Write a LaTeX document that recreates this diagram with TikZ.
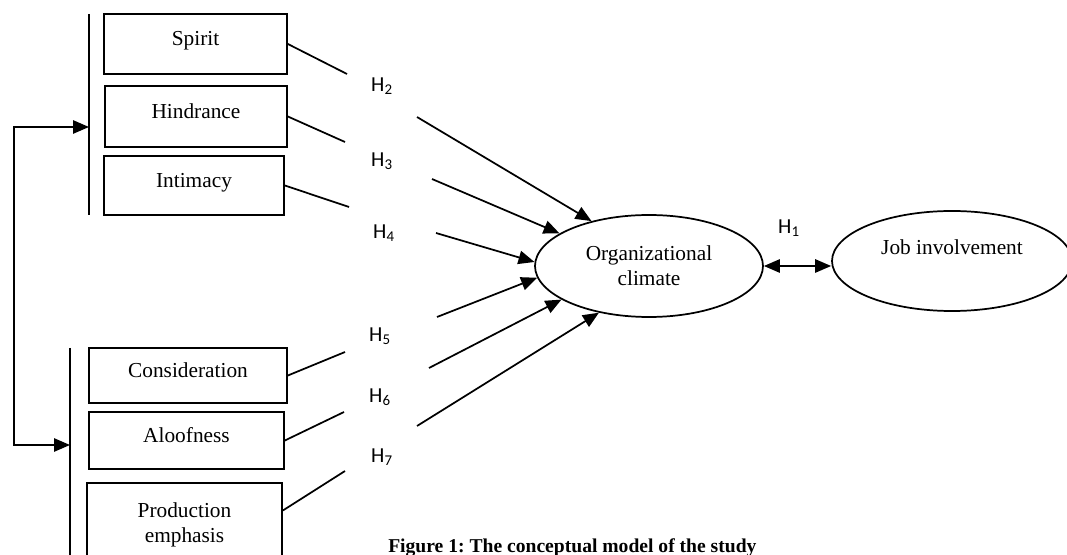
\documentclass[tikz,border=0pt]{standalone}
\usepackage{fontspec}
\setmainfont{Liberation Serif}
\newfontfamily\hfont{Carlito}
\usetikzlibrary{arrows.meta,shapes.geometric}

\tikzset{
    >={Triangle[length=12pt,width=10pt]},
    factor/.style={draw, line width=1.3pt, inner sep=0pt, text depth=8pt, align=center,
        font=\fontsize{16}{19}\selectfont},
    hyp/.style={font=\hfont\fontsize{16}{19}\selectfont},
    link/.style={line width=1.3pt, ->},
}

\begin{document}
\begin{tikzpicture}[x=0.75pt,y=-0.75pt]
        \useasboundingbox (0,0) rectangle (1067,555);

        % Factores
        \node[factor, minimum width=137.25pt, minimum height=45pt] (spirit) at (195.5,44) {Spirit};
        \node[factor, minimum width=136.5pt, minimum height=45.75pt] (hindrance) at (196,116.5) {Hindrance};
        \node[factor, minimum width=135pt, minimum height=44.25pt] (intimacy) at (194,185.5) {Intimacy};

        \node[factor, minimum width=148.5pt, minimum height=41.25pt] (consideration) at (188,375.5) {Consideration};
        \node[factor, minimum width=146.25pt, minimum height=42.75pt] (aloofness) at (186.5,440.5) {Aloofness};
        \node[factor, text depth=3pt, minimum width=146.25pt, minimum height=62.25pt] (production) at (184.5,524.5) {Production\\emphasis};

        % Barras
        \coordinate (t1) at (89,14);
        \coordinate (t2) at (89,215);
        \coordinate (b1) at (70,348);
        \coordinate (b2) at (70,560);
        \draw[line width=1.3pt] (t1) -- (t2);
        \draw[line width=1.3pt] (b1) -- (b2);

        \coordinate (tin) at (89,127);
        \coordinate (bin) at (70,445);
        \draw[line width=1.3pt, <->] (tin) -- ++(-75,0) |- (bin);

        % Elipses
        \node[draw, ellipse, line width=1.3pt, inner sep=0pt, minimum width=171pt, minimum height=76.5pt,
            align=center, font=\fontsize{16}{19}\selectfont] (org) at (649,266) {Organizational\\climate};
        \node[draw, ellipse, line width=1.3pt, inner sep=0pt, minimum width=180pt, minimum height=75pt,
            text depth=21pt, font=\fontsize{16}{19}\selectfont] (job) at (952,261) {Job involvement};

        \draw[line width=1.3pt, <->] (org.east) -- (org.east -| job.west);
        \node[hyp] (h1) at (789,228) {H\textsubscript{1}};

        % Hipotesis
        \node[hyp] (h2) at (382,86) {H\textsubscript{2}};
        \node[hyp] (h3) at (382,161) {H\textsubscript{3}};
        \node[hyp] (h4) at (384,233) {H\textsubscript{4}};
        \node[hyp] (h5) at (380,336) {H\textsubscript{5}};
        \node[hyp] (h6) at (380,397) {H\textsubscript{6}};
        \node[hyp] (h7) at (382,457) {H\textsubscript{7}};

        \coordinate (e1) at (347,74);
        \coordinate (e2) at (345,142);
        \coordinate (e3) at (349,207);
        \coordinate (e4) at (345,352);
        \coordinate (e5) at (344,412);
        \coordinate (e6) at (345,471);

        \draw[line width=1.3pt] (spirit.east) -- (e1);
        \draw[line width=1.3pt] (hindrance.east) -- (e2);
        \draw[line width=1.3pt] (intimacy.east) -- (e3);
        \draw[line width=1.3pt] (consideration.east) -- (e4);
        \draw[line width=1.3pt] (aloofness.east) -- (e5);
        \draw[line width=1.3pt] ([yshift=10.5pt]production.east) -- (e6);

        % Flechas
        \coordinate (a1) at (417,117);
        \coordinate (a2) at (432,179);
        \coordinate (a3) at (436,233);
        \coordinate (a4) at (437,317);
        \coordinate (a5) at (429,368);
        \coordinate (a6) at (417,426);
        \foreach \i/\a in {1/142, 2/160, 3/178, 4/186, 5/201, 6/223} {
            \draw[link] (a\i) -- (org.\a);
        }

        \node[anchor=base west, inner sep=0pt, font=\bfseries\fontsize{14.7}{17}\selectfont] (cap) at (388,552)
            {Figure 1:\ The conceptual model of the study};
    \end{tikzpicture}
\end{document}
